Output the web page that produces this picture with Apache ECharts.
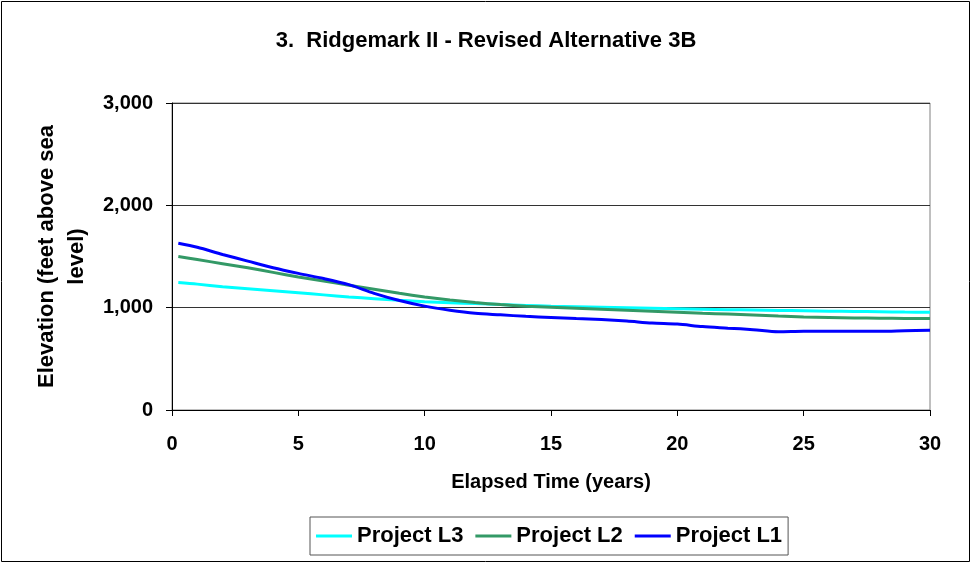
<!DOCTYPE html>
<html><head><meta charset="utf-8">
<script src="https://cdn.jsdelivr.net/npm/echarts@6/dist/echarts.min.js"></script>
<style>html,body{margin:0;padding:0;background:#fff}#c{width:972px;height:564px}</style>
</head><body><div id="c"></div>
<script>
const years = [0.25,1,2,3,4,5,6,7,8,9,10,11,12,13,14,15,16,17,18,19,20,21,22,23,24,25,26,27,28,29,30];
const projectL3 = [1245,1230,1205,1185,1165,1145,1125,1105,1088,1072,1058,1047,1040,1030,1022,1015,1010,1005,1000,995,990,985,980,977,973,970,966,963,960,957,955];
const projectL2 = [1500,1470,1430,1390,1345,1300,1260,1220,1180,1140,1105,1075,1050,1030,1015,1005,995,985,975,965,955,945,938,928,918,910,905,900,897,895,893];
const projectL1 = [1630,1590,1520,1455,1390,1335,1285,1225,1140,1070,1015,975,945,930,915,905,895,885,870,850,840,815,800,785,765,770,770,770,770,775,780];
const seriesNames = ['Project L3','Project L2','Project L1'];
const seriesColors = ['#00ffff','#339966','#0000ff'];
const yTicks = [0,1000,2000,3000];

const chart = echarts.init(document.getElementById('c'));
const font = 'Liberation Sans, Arial, sans-serif';
const pair = (ys) => years.map((x,i)=>[x,ys[i]]);
const data = [projectL3, projectL2, projectL1];
chart.setOption({
  animation:false,
  backgroundColor:'#fff',
  title:{text:'3.  Ridgemark II - Revised Alternative 3B', left:'center', top:25,
    textStyle:{fontFamily:font,fontSize:22,fontWeight:'bold',color:'#000'}},
  graphic:[{type:'rect',shape:{x:1.5,y:1.5,width:968,height:560},style:{fill:'none',stroke:'#000',lineWidth:1},silent:true}],
  grid:{left:172,right:42,top:103,bottom:154,show:true,borderColor:'#808080',borderWidth:1,containLabel:false},
  legend:{data:seriesNames,top:517,left:310,itemWidth:36,itemHeight:3,icon:'rect',itemGap:12,
    borderColor:'#555',borderWidth:1,padding:[8,6,8,6],
    textStyle:{fontFamily:font,fontSize:22,fontWeight:'bold',color:'#000'}},
  xAxis:{type:'value',min:0,max:30,interval:5,
    name:'Elapsed Time (years)',nameLocation:'middle',nameGap:62,
    nameTextStyle:{fontFamily:font,fontSize:20,fontWeight:'bold',color:'#000'},
    axisLine:{lineStyle:{color:'#000'}},axisTick:{show:true,inside:false,length:6,lineStyle:{color:'#000'}},
    splitLine:{show:false},
    axisLabel:{fontFamily:font,fontSize:20,fontWeight:'bold',color:'#000',margin:24}},
  yAxis:{type:'value',min:0,max:3000,interval:1000,
    name:'Elevation (feet above sea\nlevel)',nameLocation:'middle',nameRotate:90,nameGap:80,
    nameTextStyle:{fontFamily:font,fontSize:22,fontWeight:'bold',color:'#000',lineHeight:30},
    axisLine:{show:true,lineStyle:{color:'#000'}},axisTick:{show:true,inside:false,length:6,lineStyle:{color:'#000'}},
    splitLine:{show:true,lineStyle:{color:'#333',width:1}},
    axisLabel:{fontFamily:font,fontSize:20,fontWeight:'bold',color:'#000',margin:19,
      formatter:(v)=>yTicks.includes(v)?v.toLocaleString('en-US'):''}},
  series: seriesNames.map((n,i)=>({name:n,type:'line',data:pair(data[i]),showSymbol:false,smooth:0.3,
    lineStyle:{color:seriesColors[i],width:3},itemStyle:{color:seriesColors[i]}}))
});
</script></body></html>
